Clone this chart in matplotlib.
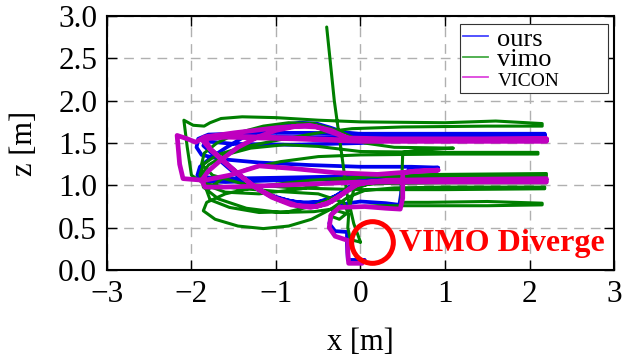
import numpy as np
import matplotlib
matplotlib.use("Agg")
import matplotlib.pyplot as plt
from matplotlib.lines import Line2D

plt.rcParams["font.family"] = ["Liberation Serif", "DejaVu Serif"]
plt.rcParams["mathtext.fontset"] = "stix"

# ── Trajectories (x [m], z [m]); None breaks a path ──
OURS = [
    (0.05, 0.12), (-0.15, 0.12), (-0.16, 0.30), (-0.16, 0.45), (-0.30, 0.46),
    (-0.37, 0.55), (-0.33, 0.68), (-0.20, 0.78), (0.00, 0.81), (0.30, 0.79),
    (0.46, 0.77), (0.48, 0.90), (0.49, 1.10), (0.58, 1.19), (0.92, 1.21),
    (0.60, 1.22), (0.00, 1.22), (-0.60, 1.24), (-1.20, 1.27), (-1.65, 1.31),
    (-1.88, 1.36), (-1.94, 1.45), (-1.92, 1.55), (-1.80, 1.60), (-1.20, 1.62),
    (-0.60, 1.62), (0.00, 1.61), (1.00, 1.61), (2.18, 1.61),
    (2.18, 1.58), (1.00, 1.58), (0.00, 1.57), (-0.80, 1.57), (-1.50, 1.58),
    (-1.80, 1.57), (-1.86, 1.52), (-1.78, 1.44), (-1.63, 1.30), (-1.45, 1.14),
    (-1.25, 0.99), (-1.05, 0.88), (-0.85, 0.82), (-0.65, 0.79), (-0.45, 0.81),
    (-0.28, 0.88), (-0.12, 0.99), (0.05, 1.06), (0.30, 1.09), (1.00, 1.10),
    (2.18, 1.11),
    (2.18, 1.08), (1.00, 1.08), (0.00, 1.08), (-1.00, 1.06), (-1.60, 1.04),
    (-1.85, 1.05), (-1.93, 1.12), (-1.90, 1.22), (-1.78, 1.32), (-1.60, 1.44),
    (-1.40, 1.56), (-1.18, 1.65), (-0.95, 1.71), (-0.72, 1.74), (-0.52, 1.73),
    (-0.35, 1.68), (-0.18, 1.62), (0.10, 1.60), (1.00, 1.60), (2.18, 1.60),
    (2.18, 1.58), (1.00, 1.58), (0.00, 1.50), (-0.80, 1.48), (-1.50, 1.49),
    (-1.82, 1.52), (-1.86, 1.47), (-1.75, 1.37), (-1.58, 1.22), (-1.40, 1.07),
    (-1.20, 0.94), (-0.98, 0.85), (-0.75, 0.80), (-0.52, 0.80), (-0.32, 0.86),
    (-0.14, 0.97), (0.05, 1.06), (0.35, 1.10), (1.00, 1.12), (2.18, 1.12),
    (2.18, 1.10), (1.00, 1.10), (0.00, 1.11), (-1.00, 1.09), (-1.60, 1.08),
    (-1.90, 1.10),
]

VIMO = [
    (0.00, 0.33), (-0.12, 0.36), (-0.15, 0.50), (-0.14, 0.66), (-0.28, 0.70),
    (-0.36, 0.64), (-0.25, 0.60), (-0.15, 0.68), (-0.20, 0.80), (-0.50, 0.90),
    (-1.00, 0.93), (-1.50, 0.97), (-1.85, 1.02), (-2.00, 1.12), (-2.05, 1.45),
    (-2.09, 1.77), (-1.98, 1.71), (-1.85, 1.70), (-1.78, 1.74), (-1.65, 1.79),
    (-1.40, 1.81), (-1.00, 1.80), (-0.50, 1.77), (0.00, 1.75), (1.00, 1.74),
    (1.60, 1.76), (2.15, 1.73),
    (2.15, 1.70), (1.50, 1.70), (0.50, 1.69), (-0.10, 1.67), (-0.50, 1.62),
    (-0.90, 1.55), (-1.40, 1.45), (-1.70, 1.36), (-1.86, 1.25), (-1.90, 1.12),
    (-1.82, 1.00), (-1.60, 0.92), (-1.20, 0.90), (-0.70, 0.96), (-0.30, 1.05),
    (0.20, 1.12), (1.00, 1.13), (2.20, 1.14),
    (2.20, 1.11), (1.00, 1.11), (0.00, 1.10), (-0.60, 1.06), (-1.20, 0.99),
    (-1.60, 0.90), (-1.82, 0.80), (-1.86, 0.70), (-1.72, 0.60), (-1.45, 0.52),
    (-1.15, 0.49), (-0.85, 0.52), (-0.58, 0.60), (-0.35, 0.72), (-0.15, 0.86),
    (0.05, 0.94), (0.40, 0.97), (1.00, 0.98), (2.18, 0.98),
    (2.18, 0.96), (1.00, 0.95), (0.00, 0.95), (-0.80, 0.97), (-1.40, 1.02),
    (-1.75, 1.12), (-1.88, 1.25), (-1.85, 1.38), (-1.70, 1.50), (-1.45, 1.62),
    (-1.15, 1.70), (-0.85, 1.74), (-0.55, 1.73), (-0.25, 1.64), (0.05, 1.50),
    (0.40, 1.45), (1.10, 1.44), (0.70, 1.42), (0.50, 1.39), (0.49, 1.10),
    (0.48, 0.80), (0.80, 0.80), (1.50, 0.81), (2.15, 0.79),
    (2.15, 0.77), (1.50, 0.76), (0.80, 0.76), (0.20, 0.76), (-0.20, 0.74),
    (-0.55, 0.69), (-0.95, 0.68), (-1.35, 0.73), (-1.68, 0.84), (-1.86, 0.98),
    (-1.88, 1.12), (-1.80, 1.24), (-1.60, 1.36), (-1.30, 1.44), (-0.90, 1.48),
    (-0.50, 1.46), (0.00, 1.40), (1.00, 1.39), (2.10, 1.39),
    (2.10, 1.37), (1.00, 1.37), (0.00, 1.36), (-0.50, 1.34), (-0.95, 1.28),
    (-1.35, 1.19), (-1.65, 1.07), (-1.82, 0.94), (-1.78, 0.83), (-1.55, 0.74),
    (-1.20, 0.68), (-0.85, 0.69), (-0.55, 0.76), (-0.28, 0.87), (0.00, 1.00),
    (0.40, 1.05), (1.20, 1.06), (2.20, 1.06),
    (2.20, 1.03), (1.00, 1.03), (0.10, 1.02), (-0.08, 0.95), (-0.14, 0.70),
    None,
    # divergence
    (-0.40, 2.87), (-0.31, 2.00), (-0.22, 1.35), (-0.16, 0.90), (-0.08, 0.55),
    (0.00, 0.33),
]

VICON = [
    (0.02, 0.08), (-0.14, 0.08), (-0.15, 0.22), (-0.15, 0.35), (-0.30, 0.40),
    (-0.37, 0.50), (-0.35, 0.65), (-0.25, 0.74), (0.05, 0.75), (0.30, 0.73),
    (0.47, 0.72), (0.50, 0.85), (0.50, 1.15), (0.65, 1.17), (0.92, 1.18),
    (0.60, 1.16), (0.20, 1.13), (-0.30, 1.15), (-0.80, 1.20), (-1.20, 1.23),
    (-1.55, 1.12), (-1.85, 1.06), (-2.10, 1.08), (-2.14, 1.25), (-2.17, 1.59),
    (-2.05, 1.55), (-1.95, 1.51), (-1.85, 1.57), (-1.50, 1.62), (-1.00, 1.68),
    (-0.60, 1.71), (-0.35, 1.65), (-0.15, 1.56), (0.30, 1.55), (1.00, 1.55),
    (2.20, 1.55),
    (2.20, 1.53), (1.00, 1.53), (0.00, 1.53), (-0.80, 1.56), (-1.50, 1.58),
    (-1.80, 1.58), (-1.86, 1.52), (-1.78, 1.43), (-1.63, 1.30), (-1.45, 1.14),
    (-1.25, 0.98), (-1.05, 0.86), (-0.82, 0.77), (-0.59, 0.74), (-0.40, 0.78),
    (-0.24, 0.88), (-0.08, 1.00), (0.10, 1.04), (0.40, 1.05), (1.00, 1.05),
    (2.20, 1.06),
    (2.20, 1.04), (1.00, 1.04), (0.00, 1.04), (-1.00, 1.00), (-1.60, 0.98),
    (-1.84, 0.98), (-1.88, 1.06), (-1.80, 1.17), (-1.65, 1.30), (-1.45, 1.45),
    (-1.22, 1.57), (-1.00, 1.65), (-0.75, 1.70), (-0.52, 1.69), (-0.32, 1.62),
    (-0.12, 1.55), (0.20, 1.54), (1.00, 1.54), (2.20, 1.55),
    (2.20, 1.52), (1.00, 1.52), (0.00, 1.52), (-0.80, 1.55), (-1.60, 1.57),
    (-1.84, 1.55), (-1.78, 1.43), (-1.62, 1.28), (-1.42, 1.11), (-1.20, 0.95),
    (-0.98, 0.84), (-0.74, 0.76), (-0.52, 0.75), (-0.34, 0.81), (-0.18, 0.92),
    (-0.02, 1.02), (0.30, 1.06), (1.00, 1.07), (2.20, 1.08),
]

SERIES = ["ours", "vimo", "VICON"]
COLORS = ["#0000ee", "#007f00", "#bf00bf"]
LEGEND_COLORS = ["#4444ff", "#44aa44", "#dd44dd"]

DIVERGE_X = [0.14]
DIVERGE_Z = [0.33]


def to_xy(path):
    pts = [(np.nan, np.nan) if p is None else p for p in path]
    arr = np.array(pts, dtype=float)
    return arr[:, 0], arr[:, 1]


fig = plt.figure(figsize=(6.39, 3.64), dpi=100)
ax = fig.add_axes([0.1674, 0.258, 0.7935, 0.698])

widths = [2.7, 2.2, 3.4]
for path, color, lw in zip([OURS, VIMO, VICON], COLORS, widths):
    x, z = to_xy(path)
    ax.plot(x, z, color=color, lw=lw, solid_joinstyle="round",
            solid_capstyle="round", zorder=3)

# ── Divergence marker ──
ax.plot(DIVERGE_X, DIVERGE_Z, marker="o", ms=30, mfc="none", mec="#ff0000",
        mew=3.6, ls="none", zorder=5)
ax.text(DIVERGE_X[0] + 0.31, DIVERGE_Z[0] - 0.02, "VIMO Diverge", color="#ff0000",
        fontsize=23, fontweight="bold", ha="left", va="center", zorder=6)

ax.set_xlim(-3, 3)
ax.set_ylim(0, 3)
ax.set_xticks(range(-3, 4))
ax.set_yticks(np.arange(0, 3.01, 0.5))
ax.set_yticklabels([f"{v:.1f}" for v in np.arange(0, 3.01, 0.5)])
ax.tick_params(direction="in", top=True, right=True, length=7, width=1,
               labelsize=22.5, pad=7)
ax.grid(True, color="#b0b0b0", linestyle=(0, (7, 5)), linewidth=1)
ax.set_axisbelow(True)
for s in ax.spines.values():
    s.set_linewidth(1.5)

ax.set_xlabel("x [m]", fontsize=22, labelpad=14)
ax.set_ylabel("z [m]", fontsize=22, labelpad=14)

# ── Legend ──
handles = [Line2D([0], [0], color=c, lw=1.3) for c in LEGEND_COLORS]
leg = ax.legend(handles, SERIES, loc="upper left",
                bbox_to_anchor=(0.696, 0.677, 0.292, 0.292), mode="expand",
                fontsize=19, frameon=True, fancybox=False, edgecolor="#333333",
                framealpha=1, handlelength=0.95, handletextpad=0.35,
                labelspacing=-0.12, borderpad=0.12, borderaxespad=0)
leg.get_frame().set_linewidth(0.8)
leg.get_texts()[2].set_fontsize(14)

fig.savefig("out.png", dpi=100, facecolor="white")
